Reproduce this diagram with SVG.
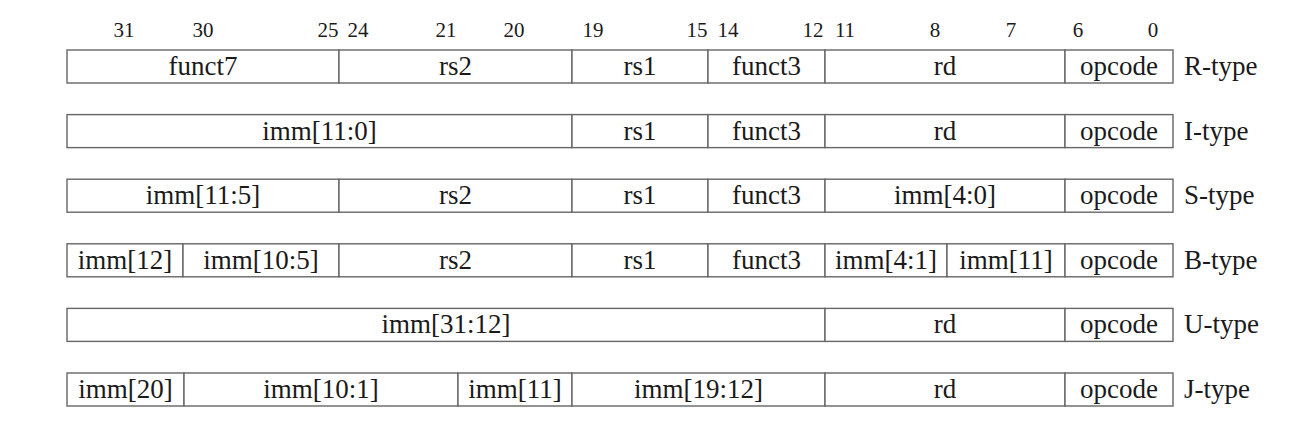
<svg xmlns="http://www.w3.org/2000/svg" width="1299" height="425" viewBox="0 0 1299 425">
<style>
.f{fill:#fff;stroke:#666;stroke-width:1.4}
text{font-family:'Liberation Serif','DejaVu Serif',serif;fill:#1a1a1a}
.t{font-size:27px;text-anchor:middle}
.l{font-size:27px}
.b{font-size:21px;text-anchor:middle}
</style>
<rect width="1299" height="425" fill="#fff"/>
<g id="bits">
<text class="b" x="124" y="37">31</text>
<text class="b" x="203" y="37">30</text>
<text class="b" x="328" y="37">25</text>
<text class="b" x="358" y="37">24</text>
<text class="b" x="446" y="37">21</text>
<text class="b" x="514" y="37">20</text>
<text class="b" x="593" y="37">19</text>
<text class="b" x="697" y="37">15</text>
<text class="b" x="728" y="37">14</text>
<text class="b" x="813" y="37">12</text>
<text class="b" x="845" y="37">11</text>
<text class="b" x="935" y="37">8</text>
<text class="b" x="1011" y="37">7</text>
<text class="b" x="1078" y="37">6</text>
<text class="b" x="1153" y="37">0</text>
</g>
<g id="r-type">
<rect class="f" x="67" y="50" width="272" height="33"/>
<rect class="f" x="339" y="50" width="233" height="33"/>
<rect class="f" x="572" y="50" width="136" height="33"/>
<rect class="f" x="708" y="50" width="117" height="33"/>
<rect class="f" x="825" y="50" width="240" height="33"/>
<rect class="f" x="1065" y="50" width="108" height="33"/>
<text class="t" x="203" y="75">funct7</text>
<text class="t" x="455.5" y="75">rs2</text>
<text class="t" x="640" y="75">rs1</text>
<text class="t" x="766.5" y="75">funct3</text>
<text class="t" x="945" y="75">rd</text>
<text class="t" x="1119" y="75">opcode</text>
<text class="l" x="1184" y="75">R-type</text>
</g>
<g id="i-type">
<rect class="f" x="67" y="114.6" width="505" height="33"/>
<rect class="f" x="572" y="114.6" width="136" height="33"/>
<rect class="f" x="708" y="114.6" width="117" height="33"/>
<rect class="f" x="825" y="114.6" width="240" height="33"/>
<rect class="f" x="1065" y="114.6" width="108" height="33"/>
<text class="t" x="319.5" y="139.6">imm[11:0]</text>
<text class="t" x="640" y="139.6">rs1</text>
<text class="t" x="766.5" y="139.6">funct3</text>
<text class="t" x="945" y="139.6">rd</text>
<text class="t" x="1119" y="139.6">opcode</text>
<text class="l" x="1184" y="139.6">I-type</text>
</g>
<g id="s-type">
<rect class="f" x="67" y="179.2" width="272" height="33"/>
<rect class="f" x="339" y="179.2" width="233" height="33"/>
<rect class="f" x="572" y="179.2" width="136" height="33"/>
<rect class="f" x="708" y="179.2" width="117" height="33"/>
<rect class="f" x="825" y="179.2" width="240" height="33"/>
<rect class="f" x="1065" y="179.2" width="108" height="33"/>
<text class="t" x="203" y="204.2">imm[11:5]</text>
<text class="t" x="455.5" y="204.2">rs2</text>
<text class="t" x="640" y="204.2">rs1</text>
<text class="t" x="766.5" y="204.2">funct3</text>
<text class="t" x="945" y="204.2">imm[4:0]</text>
<text class="t" x="1119" y="204.2">opcode</text>
<text class="l" x="1184" y="204.2">S-type</text>
</g>
<g id="b-type">
<rect class="f" x="67" y="243.8" width="116" height="33"/>
<rect class="f" x="183" y="243.8" width="156" height="33"/>
<rect class="f" x="339" y="243.8" width="233" height="33"/>
<rect class="f" x="572" y="243.8" width="136" height="33"/>
<rect class="f" x="708" y="243.8" width="117" height="33"/>
<rect class="f" x="825" y="243.8" width="122" height="33"/>
<rect class="f" x="947" y="243.8" width="118" height="33"/>
<rect class="f" x="1065" y="243.8" width="108" height="33"/>
<text class="t" x="125" y="268.8">imm[12]</text>
<text class="t" x="261" y="268.8">imm[10:5]</text>
<text class="t" x="455.5" y="268.8">rs2</text>
<text class="t" x="640" y="268.8">rs1</text>
<text class="t" x="766.5" y="268.8">funct3</text>
<text class="t" x="886" y="268.8">imm[4:1]</text>
<text class="t" x="1006" y="268.8">imm[11]</text>
<text class="t" x="1119" y="268.8">opcode</text>
<text class="l" x="1184" y="268.8">B-type</text>
</g>
<g id="u-type">
<rect class="f" x="67" y="308.4" width="758" height="33"/>
<rect class="f" x="825" y="308.4" width="240" height="33"/>
<rect class="f" x="1065" y="308.4" width="108" height="33"/>
<text class="t" x="446" y="333.4">imm[31:12]</text>
<text class="t" x="945" y="333.4">rd</text>
<text class="t" x="1119" y="333.4">opcode</text>
<text class="l" x="1184" y="333.4">U-type</text>
</g>
<g id="j-type">
<rect class="f" x="67" y="373" width="117" height="33"/>
<rect class="f" x="184" y="373" width="274" height="33"/>
<rect class="f" x="458" y="373" width="114" height="33"/>
<rect class="f" x="572" y="373" width="253" height="33"/>
<rect class="f" x="825" y="373" width="240" height="33"/>
<rect class="f" x="1065" y="373" width="108" height="33"/>
<text class="t" x="125.5" y="398">imm[20]</text>
<text class="t" x="321" y="398">imm[10:1]</text>
<text class="t" x="515" y="398">imm[11]</text>
<text class="t" x="698.5" y="398">imm[19:12]</text>
<text class="t" x="945" y="398">rd</text>
<text class="t" x="1119" y="398">opcode</text>
<text class="l" x="1184" y="398">J-type</text>
</g>
<g id="connectors"/>
</svg>
